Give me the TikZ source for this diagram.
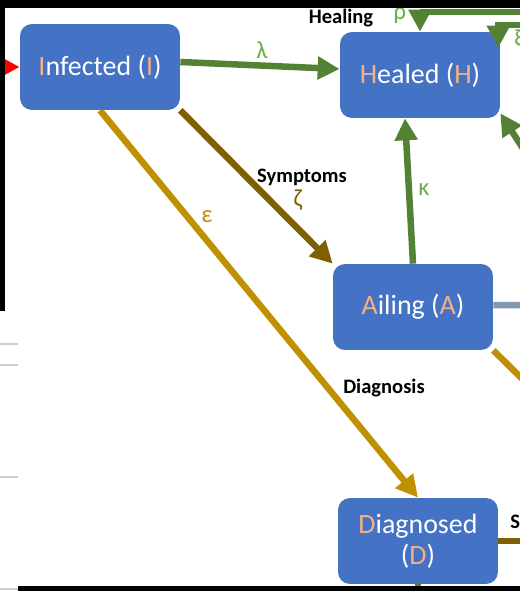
\documentclass[tikz,border=0pt]{standalone}
\usepackage{fontspec}
\setmainfont{Carlito}
\usetikzlibrary{arrows.meta,backgrounds}
\definecolor{boxblue}{HTML}{4472C4}
\definecolor{hl}{HTML}{F4B183}
\definecolor{flowgreen}{HTML}{548235}
\definecolor{lblgreen}{HTML}{70AD47}
\definecolor{flowbrown}{HTML}{7F6000}
\definecolor{flowgold}{HTML}{BF9000}
\definecolor{flowgray}{HTML}{8497B0}
\definecolor{tickgray}{HTML}{CFCFCF}
\begin{document}
\begin{tikzpicture}
  [x=0.02cm,y=-0.02cm,
   comp/.style={rectangle,rounded corners=0.24cm,fill=boxblue,text=white,minimum width=3.2cm,
     minimum height=1.72cm,align=center,inner sep=0pt,font=\fontsize{15.9}{17.5}\selectfont},
   lbl/.style={inner sep=0pt,font=\bfseries\fontsize{11.7}{13}\selectfont},
   greek/.style={inner sep=0pt,font=\fontsize{14}{15}\selectfont},
   flow/.style={draw=#1,line width=3.7pt,-{Triangle[width=12.5pt,length=12.5pt]}},
   stub/.style={draw=#1,line width=3.7pt}]
  \useasboundingbox (0,0) rectangle (520,591);
  \clip (0,0) rectangle (520,591);

  \node[comp] (inf) at (100,67)  {{\color{hl}I}nfected ({\color{hl}I})};
  \node[comp] (hea) at (420,75)  {{\color{hl}H}ealed ({\color{hl}H})};
  \node[comp] (ail) at (413,307) {{\color{hl}A}iling ({\color{hl}A})};
  \node[comp] (dia) at (418,541) {{\color{hl}D}iagnosed\\({\color{hl}D})};

  \coordinate (redin) at (-30,67);
  \coordinate (fromD) at (560,12);
  \coordinate (fromR) at (560,25);
  \coordinate (fromT) at (540,175);
  \coordinate (toR)   at (560,305);
  \coordinate (toT)   at (560,416);
  \coordinate (toRd)  at (560,541);
  \coordinate (toE)   at (418,640);

  \begin{scope}[on background layer]
    \draw[flow=red] (redin) -- (inf.west);
    \draw[flow=flowgreen] ([yshift=0.1cm]inf.east) -- ([yshift=0.12cm]hea.west);
    \draw[flow=flowbrown] (inf.south east) -- (ail.north west);
    \draw[flow=flowgold] (inf.south) -- (dia.north);
    \draw[flow=flowgreen] (ail.north) -- ([xshift=-0.3cm]hea.south);
    \draw[flow=flowgreen] (fromD) -| (hea.north);
    \draw[flow=flowgreen] (fromT) -- ([yshift=0.1cm]hea.south east);
    \draw[stub=flowgray] ([yshift=0.04cm]ail.east) -- (toR);
    \draw[stub=flowgold] (ail.south east) -- (toT);
    \draw[stub=flowbrown] (dia.east) -- (toRd);
    \draw[stub=flowgreen] (dia.south) -- (toE);
  \end{scope}
  \draw[flow=flowgreen] (fromR) -| ([xshift=-0.04cm,yshift=-0.32cm]hea.north east);

  \node[greek,text=lblgreen] (lam) at (262,50) {λ};
  \node[lbl] (sym) at (302,177) {Symptoms};
  \node[greek,text=flowbrown] (zeta) at (298,200) {ζ};
  \node[greek,text=flowgold] (eps) at (207,217) {ε};
  \node[greek,text=lblgreen] (kap) at (424,190) {κ};
  \node[lbl] (diag) at (384,388) {Diagnosis};
  \node[lbl] (heal) at (341,18) {Healing};
  \node[greek,text=lblgreen] (rho) at (400,16) {ρ};
  \node[greek,text=lblgreen,anchor=west] (xi) at (514,40) {ξ};
  \node[lbl,anchor=west] (sym2) at (510,522) {S};

  \fill (0,0) rectangle (520,8);
  \fill (0,0) rectangle (5,311);
  \fill (18,586) rectangle (520,591);
  \foreach \y in {344,365,477,589}
    \draw[tickgray,line width=1.2pt] (0,\y) -- (18,\y);
\end{tikzpicture}
\end{document}
